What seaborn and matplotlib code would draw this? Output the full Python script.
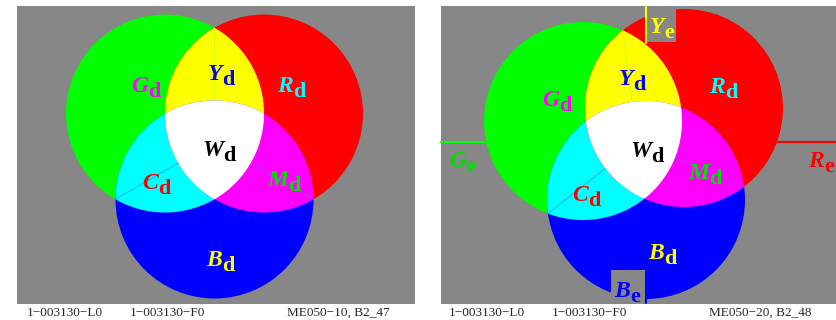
import numpy as np
import seaborn as sns
import matplotlib.pyplot as plt
from matplotlib.patches import Circle, Rectangle, Polygon

sns.set_theme(style='white')
plt.rcParams['font.family'] = ['Liberation Serif', 'DejaVu Serif']

# diagram data (pixel units, y downwards)
radius = 99
left_centres = {'G': (165, 113.5), 'R': (264, 113.5), 'B': (214.5, 199.5)}
right_centres = {'G': (583, 121), 'R': (684, 108), 'B': (646, 200)}

fills = {'G': '#00ff00', 'R': '#ff0000', 'B': '#0000ff',
         'GR': '#ffff00', 'GB': '#00ffff', 'RB': '#ff00ff', 'GRB': '#ffffff'}
edge_cols = {'GR': '#c0ff00', 'GB': '#0090ff', 'RB': '#a040ff'}

# region labels: (capital, subscript, colour)
d_labels = {'G': ('G', 'd', '#ff00ff'), 'R': ('R', 'd', '#00ffff'),
            'B': ('B', 'd', '#ffff00'), 'GR': ('Y', 'd', '#0000ff'),
            'GB': ('C', 'd', '#ff0000'), 'RB': ('M', 'd', '#00e000'),
            'GRB': ('W', 'd', '#000000')}
e_labels = {'G': ('G', 'e', '#00e000'), 'R': ('R', 'e', '#ff0000'),
            'GR': ('Y', 'e', '#ffff00'), 'B': ('B', 'e', '#0000ff')}

left_pos = {'G': (148, 92), 'R': (293, 92), 'B': (222, 266), 'GR': (222, 80),
            'GB': (158, 189), 'RB': (288, 186), 'GRB': (223, 156)}
right_pos = {'G': (559, 106), 'R': (725, 93), 'B': (664, 259), 'GR': (633, 85),
             'GB': (588, 201), 'RB': (709, 179), 'GRB': (651, 157)}
right_e_pos = {'G': (466, 167), 'R': (824, 167), 'GR': (664, 33), 'B': (630, 297)}

footers = ['1\u2212003130\u2212L0', '1\u2212003130\u2212F0']
left_code = 'ME050\u221210, B2_47'
right_code = 'ME050\u221220, B2_48'

GRAY = '#878787'


def region(centres, keys, n=1440):
    t = np.linspace(0, 2 * np.pi, n, endpoint=False)
    pts = []
    for k in keys:
        cx, cy = centres[k]
        p = np.c_[cx + radius * np.cos(t), cy + radius * np.sin(t)]
        ok = np.ones(n, bool)
        for j in keys:
            if j != k:
                ok &= np.hypot(p[:, 0] - centres[j][0], p[:, 1] - centres[j][1]) <= radius + 1e-9
        pts.append(p[ok])
    pts = np.vstack(pts)
    c = pts.mean(axis=0)
    return pts[np.argsort(np.arctan2(pts[:, 1] - c[1], pts[:, 0] - c[0]))]


def meet(a, b, c):
    a, b, c = map(np.array, (a, b, c))
    d = np.linalg.norm(b - a)
    m = (a + b) / 2
    h = np.sqrt(radius ** 2 - (d / 2) ** 2)
    u = (b - a) / d
    n = np.array([-u[1], u[0]])
    p1, p2 = m + h * n, m - h * n
    return p1 if np.linalg.norm(p1 - c) > np.linalg.norm(p2 - c) else p2


def label(ax, xy, cap, sub, color):
    x, y = xy
    ax.text(x, y, cap, ha='right', va='baseline', fontsize=17, fontweight='bold',
            fontstyle='italic', color=color, zorder=10)
    ax.text(x, y + 5, sub, ha='left', va='baseline', fontsize=16, fontweight='bold',
            color=color, zorder=10)


def venn(ax, centres, pos):
    for k in ['G', 'R', 'B']:
        ax.add_patch(Circle(centres[k], radius, color=fills[k], lw=0, zorder=2))
    for k in ['GR', 'GB', 'RB']:
        ax.add_patch(Polygon(region(centres, list(k)), closed=True, color=fills[k], lw=0, zorder=3))
    mid = np.mean(list(centres.values()), axis=0)
    for k in ['GR', 'GB', 'RB']:
        other = [c for c in 'GRB' if c not in k][0]
        p = meet(centres[k[0]], centres[k[1]], centres[other])
        ax.plot([p[0], mid[0]], [p[1], mid[1]], color=edge_cols[k], lw=0.5, zorder=4)
    ax.add_patch(Polygon(region(centres, ['G', 'R', 'B']), closed=True, color=fills['GRB'], lw=0, zorder=5))
    for k, (cap, sub, col) in d_labels.items():
        label(ax, pos[k], cap, sub, col)


fig = plt.figure(figsize=(8.37, 3.2), dpi=100)
ax = fig.add_axes([0, 0, 1, 1])
ax.set_xlim(0, 837)
ax.set_ylim(320, 0)
ax.axis('off')

# left panel
ax.add_patch(Rectangle((17, 6), 398, 298, color=GRAY, lw=0, zorder=0))
venn(ax, left_centres, left_pos)

# right panel
ax.add_patch(Rectangle((441, 6), 396, 298, color=GRAY, lw=0, zorder=0))
ax.plot([441, 500], [142, 142], color='#00ff00', lw=1.5, zorder=1)
ax.plot([760, 837], [142, 142], color='#ff0000', lw=1.5, zorder=1)
venn(ax, right_centres, right_pos)
ax.add_patch(Rectangle((647, 6), 29, 36, color=GRAY, lw=0, zorder=6))
ax.add_patch(Rectangle((611, 270), 36, 34, color=GRAY, lw=0, zorder=6))
ax.plot([646, 646], [7, 43], color='#ffff00', lw=1.5, zorder=7)
ax.plot([646, 646], [271, 303], color='#0000ff', lw=1.5, zorder=7)
for k, (cap, sub, col) in e_labels.items():
    label(ax, right_e_pos[k], cap, sub, col)

# footers
for x0, code in [(0, left_code), (422, right_code)]:
    ax.text(x0 + 27, 316, footers[0], fontsize=9.5, ha='left', va='baseline')
    ax.text(x0 + 130, 316, footers[1], fontsize=9.5, ha='left', va='baseline')
    ax.text(x0 + 287, 316, code, fontsize=9.5, ha='left', va='baseline')

fig.savefig('out.png', dpi=100)
